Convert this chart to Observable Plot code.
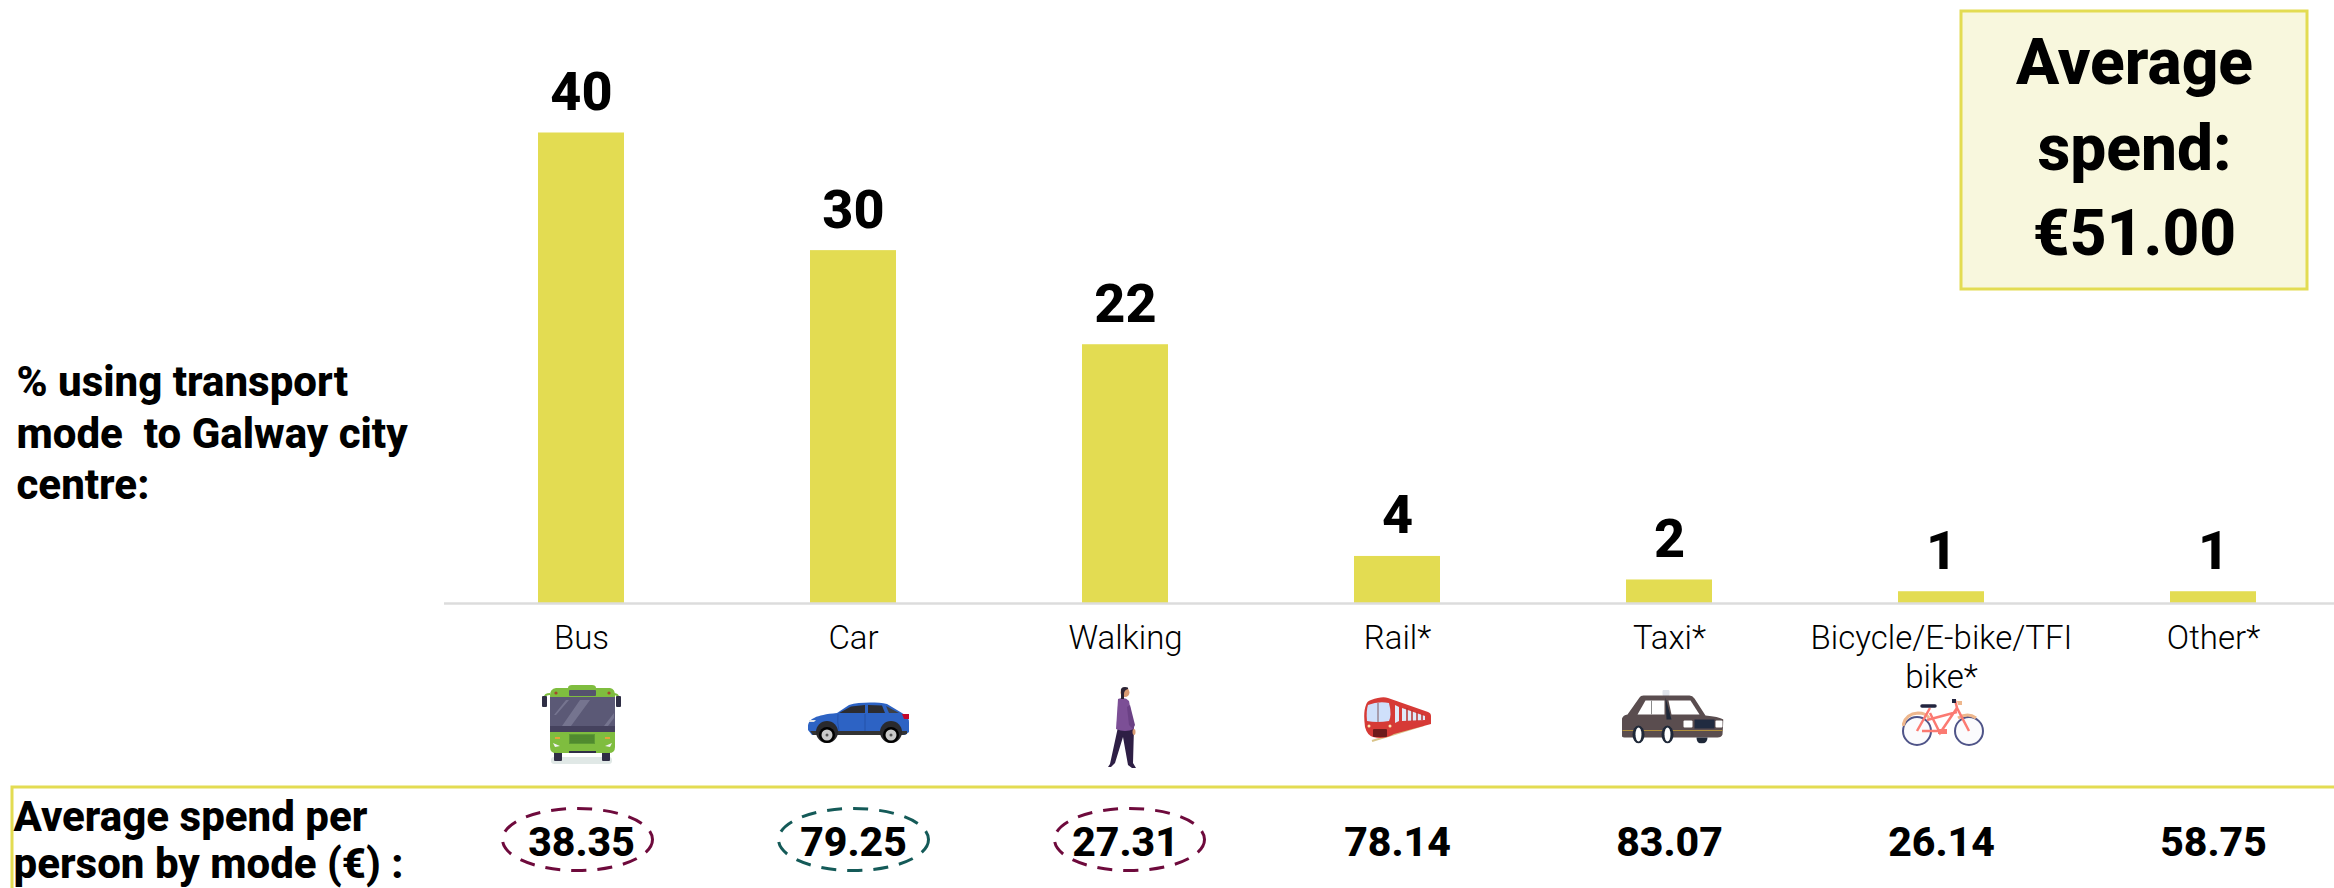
<!DOCTYPE html>
<html>
<head>
<meta charset="utf-8">
<script src="https://cdn.jsdelivr.net/npm/d3@7"></script>
<script src="https://cdn.jsdelivr.net/npm/@observablehq/plot@0.6"></script>
<style>
html,body{margin:0;padding:0;background:#fff;overflow:hidden}
svg{display:block}
</style>
</head>
<body>
<div id="chart"></div>
<script>
const modes = ["Bus","Car","Walking","Rail*","Taxi*","Bicycle/E-bike/TFI bike*","Other*"];
const shares = [40,30,22,4,2,1,1];
const spends = ["38.35","79.25","27.31","78.14","83.07","26.14","58.75"];
const modeLabels = ["Bus","Car","Walking","Rail*","Taxi*","Bicycle/E-bike/TFI\nbike*","Other*"];
const shareTitle = "% using transport\nmode  to Galway city\ncentre:";
const spendTitle = "Average spend per\nperson by mode (€) :";
const calloutText = "Average\nspend:\n€51.00";

const rows = modes.map((mode,i)=>({mode,share:shares[i],spend:spends[i]}));
const FONT = "Roboto, sans-serif";
const YELLOW = "#e3dc52";

const svgUri = (w,h,body)=>"data:image/svg+xml;utf8,"+encodeURIComponent(
 `<svg xmlns="http://www.w3.org/2000/svg" viewBox="0 0 ${w} ${h}" width="${w}" height="${h}">${body}</svg>`);

const icons = [
 {mode:"Bus",w:79,h:79,cx:0,cy:121,src:svgUri(79,79,`
  <rect x="9" y="72" width="61" height="7" rx="3" fill="#e0e8e6"/>
  <rect x="12" y="66" width="8" height="10" rx="1" fill="#2f2e45"/><rect x="60" y="66" width="8" height="10" rx="1" fill="#2f2e45"/>
  <path d="M3 18V12Q3 9 8 9M76 18V12Q76 9 71 9" stroke="#7fbd3f" stroke-width="2" fill="none"/>
  <rect x="0" y="11" width="5" height="11" rx="1" fill="#2f2e45"/><rect x="74" y="11" width="5" height="11" rx="1" fill="#2f2e45"/>
  <path d="M26 3Q26 0 30 0H50Q54 0 54 3H68Q73 4 73 10V62Q73 68 67 68H14Q8 68 8 62V10Q8 4 14 3Z" fill="#7fbd3f"/>
  <rect x="27" y="5" width="27" height="6" rx="1" fill="#55526e"/>
  <circle cx="14" cy="8" r="1.6" fill="#a5482c"/><circle cx="67" cy="8" r="1.6" fill="#a5482c"/>
  <rect x="8" y="12" width="65" height="35" fill="#5b5976"/>
  <rect x="8" y="41" width="65" height="6" fill="#45425e"/>
  <path d="M12 30L24 15H27L14 30ZM20 41L38 15H48L29 41ZM62 41L72 28V33L66 41Z" fill="#75748f"/>
  <rect x="27" y="49" width="26" height="10" fill="#5d9a35"/>
  <path d="M28 51H52M28 53H52M28 55H52M28 57H52" stroke="#3f7327" stroke-width="0.8"/>
  <path d="M11 58L18 61L13 62ZM70 58L63 61L68 62Z" fill="#f2f2f2"/>
  <rect x="13" y="52" width="5" height="2" fill="#e3a23c"/><rect x="63" y="52" width="5" height="2" fill="#e3a23c"/>
  <rect x="27" y="66" width="27" height="2" fill="#2f2e45"/>`)},
 {mode:"Car",w:103,h:41,cx:5,cy:119,src:svgUri(103,41,`
  <path d="M1 24C2 17 8 13 30 11L42 3C52 0 70 0 80 2L95 11Q102 15 102 20V30L98 33H5L1 28Z" fill="#2d63c4"/>
  <path d="M32 11L44 4.500L58 3V11Z" fill="#2c2c30"/><path d="M61 3L75 3.500L78 11H61Z" fill="#2c2c30"/>
  <path d="M79 4L92 11H82Z" fill="#3d4046"/>
  <path d="M3 29H100V32L96 33H6Z" fill="#333"/>
  <path d="M58 12V29M31 12Q30 20 32 29" stroke="#1f4b9e" stroke-width="0.7" fill="none"/>
  <path d="M95 12H102V17H97Z" fill="#c5082a"/>
  <path d="M2 18H9L7 20H2Z" fill="#dfe3e8"/>
  <circle cx="20" cy="30" r="11" fill="#2a2a2d"/><circle cx="84" cy="30" r="11" fill="#2a2a2d"/>
  <circle cx="20" cy="33" r="8" fill="#000"/><circle cx="84" cy="33" r="8" fill="#000"/>
  <circle cx="20" cy="33" r="5.500" fill="#c9c9c9"/><circle cx="84" cy="33" r="5.500" fill="#c9c9c9"/>
  <circle cx="20" cy="33" r="1.500" fill="#555"/><circle cx="84" cy="33" r="1.500" fill="#555"/>`)},
 {mode:"Walking",w:35,h:81,cx:-3,cy:124,src:svgUri(35,81,`
  <path d="M13 40L5 77L3 80H6L10 76L18 50L23 78L27 81H31L28 76L29 40Z" fill="#2e1f45"/>
  <path d="M13 12Q20 9 24 14L29 42Q20 46 11 42Z" fill="#7c4f96"/>
  <path d="M25 18L30 38L28 42L24 38L22 20Z" fill="#6b4185"/>
  <ellipse cx="29" cy="45" rx="1.500" ry="3" fill="#d89a72"/>
  <circle cx="20" cy="5.500" r="4.500" fill="#d89a72"/>
  <path d="M16 5Q15 0 20 0Q24 0 23 2Q19 3 19 7L19 12H16Z" fill="#2b2233"/>`)},
 {mode:"Rail*",w:67,h:47,cx:0,cy:117,src:svgUri(67,47,`
  <path d="M8 44L60 28" stroke="#d9c48a" stroke-width="2"/>
  <path d="M22 38L66 24V19H22Z" fill="#2d2a2a"/>
  <path d="M7 3Q18 -1 24 1L64 15Q67 16 67 19V27L30 37Q20 43 9 40Q3 38 1 30Q-1 15 2 8Q3 4 7 3Z" fill="#d63a36"/>
  <path d="M4 8Q14 4 25 6Q28 18 25 24Q13 26 3 24Q2 14 4 8Z" fill="#cfe0fb"/>
  <path d="M14 6V25" stroke="#7e5a60" stroke-width="1"/>
  <path d="M31 8L35 10V24L31 26ZM38 11L61 19V23L38 24Z" fill="#dfeaf8"/>
  <path d="M43 11V24M48 13V24M53 15V24M58 17V23" stroke="#b9302d" stroke-width="1.500"/>
  <rect x="9" y="32" width="14" height="8" rx="1" fill="#6e1b1b"/>
  <circle cx="5" cy="29" r="1.500" fill="#ffe9b0"/><circle cx="26" cy="29" r="1.500" fill="#ffe9b0"/>`)},
 {mode:"Taxi*",w:102,h:54,cx:3,cy:113,src:svgUri(102,54,`
  <rect x="41" y="0" width="7" height="7" rx="2" fill="#dfe3ea"/>
  <path d="M0 32Q0 26 6 25L18 8Q19 6 22 6H68Q71 6 73 9L84 26Q97 27 102 30L101 45Q100 48 96 48H3Q0 48 0 45Z" fill="#5a4d4f"/>
  <path d="M16 25L24 11H43V25Z" fill="#fff"/><path d="M30 11V25" stroke="#8a8a8a"/>
  <path d="M47 11H69L78 25H50Z" fill="#fff"/>
  <path d="M44 8L50 30H45Z" fill="#1f2838"/>
  <rect x="62" y="31" width="9" height="7" rx="1" fill="#fff"/><rect x="94" y="31" width="7" height="7" rx="1" fill="#fff"/>
  <rect x="73" y="30" width="20" height="9" fill="#202b40"/>
  <path d="M1 41H101" stroke="#b1903c" stroke-width="1"/>
  <ellipse cx="17" cy="45" rx="6" ry="9" fill="#1f2838"/><ellipse cx="17" cy="45" rx="3" ry="7" fill="#fff"/>
  <ellipse cx="46" cy="45" rx="6" ry="9" fill="#1f2838"/><ellipse cx="46" cy="45" rx="3" ry="7" fill="#fff"/>
  <path d="M75 48H86Q86 54 80 54Q75 54 75 48Z" fill="#1f2838"/>`)},
 {mode:"Bicycle/E-bike/TFI bike*",w:83,h:49,cx:2,cy:119,src:svgUri(83,49,`
  <circle cx="15" cy="33" r="14" fill="#fbfbfd" stroke="#4f5488" stroke-width="2"/>
  <circle cx="67" cy="33" r="14" fill="#fbfbfd" stroke="#4f5488" stroke-width="2"/>
  <path d="M1 28Q3 16 16 15Q24 15 27 20M56 20Q66 14 74 20" stroke="#eeb78d" stroke-width="3" fill="none"/>
  <path d="M15 33L28 10M28 15L38 35L55 10L67 33M20 33H44M25 22L55 14" stroke="#fb7a72" stroke-width="2.500" fill="none"/>
  <path d="M36 31H45V36H36Z" fill="#fb7a72"/>
  <path d="M20 8H33" stroke="#22253f" stroke-width="3.500" stroke-linecap="round"/>
  <path d="M55 10L53 2" stroke="#fb7a72" stroke-width="2.500"/>
  <path d="M50 3H54" stroke="#22253f" stroke-width="4"/>
  <path d="M55 3H60V7H56Z" fill="#eeb78d"/>`)}
];

const ellipse = {
 draw(ctx,size){
  const ry = Math.sqrt(size/Math.PI), rx = ry*75/31, k = 0.5523;
  ctx.moveTo(rx,0);
  ctx.bezierCurveTo(rx,k*ry,k*rx,ry,0,ry);
  ctx.bezierCurveTo(-k*rx,ry,-rx,k*ry,-rx,0);
  ctx.bezierCurveTo(-rx,-k*ry,-k*rx,-ry,0,-ry);
  ctx.bezierCurveTo(k*rx,-ry,rx,-k*ry,rx,0);
  ctx.closePath();
 }
};
const ring = (mode,stroke,dx)=>Plot.dot([{mode}],{
 x:"mode",frameAnchor:"bottom",dy:236,dx,r:31,symbol:ellipse,fill:"none",stroke,strokeWidth:3,strokeDasharray:"15 11"
});
const box = (x,y,w,h,fill)=>()=>d3.create("svg:rect")
 .attr("x",x).attr("y",y).attr("width",w).attr("height",h)
 .attr("fill",fill).attr("stroke",YELLOW).attr("stroke-width",3).node();

const chart = Plot.plot({
 width:2334,height:888,
 marginTop:132.5,marginBottom:285,marginLeft:444,marginRight:0,
 style:{fontFamily:FONT,background:"transparent",overflow:"hidden"},
 x:{domain:modes,range:[442.5,2352],paddingInner:0.684,paddingOuter:0.342,axis:null},
 y:{domain:[0,40],axis:null},
 marks:[
  box(1961,11,346,278,"#f8f7dd"),
  box(12,787,2340,120,"none"),
  Plot.barY(rows,{x:"mode",y:"share",fill:YELLOW}),
  Plot.ruleY([0],{stroke:"#dcdcdc",strokeWidth:2.5}),
  Plot.text(rows,{x:"mode",y:"share",text:d=>String(d.share),lineAnchor:"bottom",dy:-23,fontSize:54,fontWeight:800,fill:"#000"}),
  Plot.axisX({anchor:"bottom",tickSize:0,tickPadding:18,label:null,fontSize:33,fontWeight:300,lineHeight:1.17,
    tickFormat:d=>modeLabels[modes.indexOf(d)],fill:"#000"}),
  ...icons.map(ic=>Plot.image([ic],{x:"mode",frameAnchor:"bottom",dx:ic.cx,dy:ic.cy,width:ic.w,height:ic.h,src:"src"})),
  Plot.text(rows,{x:"mode",text:"spend",frameAnchor:"bottom",dy:239,lineAnchor:"middle",fontSize:41,fontWeight:800,fill:"#000"}),
  ring("Bus","#6e0a3c",-4),
  ring("Car","#145a58",0),
  ring("Walking","#6e0a3c",4),
  Plot.text([shareTitle],{frameAnchor:"left",dx:-428,dy:63,textAnchor:"start",lineAnchor:"middle",fontSize:42,fontWeight:800,lineHeight:1.22,fill:"#000"}),
  Plot.text([spendTitle],{frameAnchor:"bottom-left",dx:-431,dy:193,textAnchor:"start",lineAnchor:"top",fontSize:42,fontWeight:800,lineHeight:1.14,fill:"#000"}),
  Plot.text([calloutText],{frameAnchor:"top-right",dx:-200,dy:-110,textAnchor:"middle",lineAnchor:"top",fontSize:64,fontWeight:800,lineHeight:1.34,fill:"#000"})
 ]
});
document.getElementById("chart").appendChild(chart);
</script>
</body>
</html>
